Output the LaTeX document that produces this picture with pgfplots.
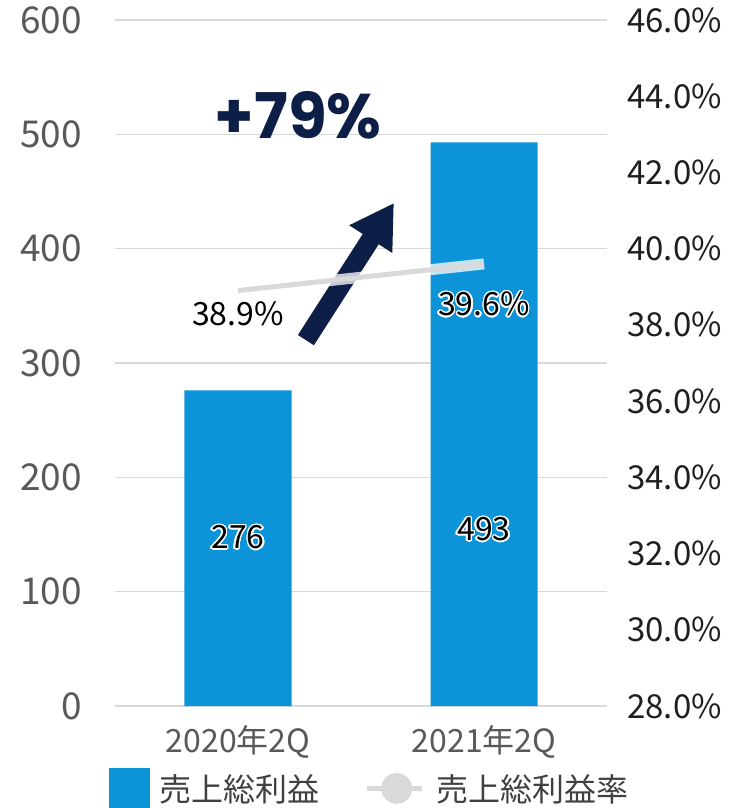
\documentclass[border=0pt]{standalone}
\usepackage{fontspec}
\setmainfont{Noto Sans CJK JP}
\newfontfamily\popfont{Poppins}
\usepackage{pgfplots}
\pgfplotsset{compat=1.18}
\usetikzlibrary{arrows.meta}
\usepackage{contour}
\contourlength{1.5pt}
\definecolor{barblue}{HTML}{0D94D8}
\definecolor{navy}{HTML}{0E1F47}
\definecolor{gridgray}{HTML}{D9D9D9}
\definecolor{tickgray}{HTML}{595959}
\definecolor{linegray}{HTML}{D9D9D9}
\definecolor{legtext}{HTML}{404040}
\begin{document}
\begin{tikzpicture}
\useasboundingbox (-115pt,-102pt) rectangle (613pt,706pt);
\begin{axis}[
  at={(0,0)}, anchor=south west,
  scale only axis, width=492pt, height=686pt,
  xmin=-0.5, xmax=1.5, ymin=0, ymax=600,
  ytick={0,100,200,300,400,500,600},
  yticklabels={0,100,200,300,400,500,600},
  xtick={0,1}, xticklabels={2020年2Q,2021年2Q},
  axis line style={draw=none}, major tick style={draw=none},
  ymajorgrids, grid style={gridgray, line width=1.3pt},
  yticklabel style={font=\fontsize{37}{44}\selectfont, text=tickgray, inner sep=0pt, anchor=east, xshift=-33pt},
  xticklabel style={font=\fontsize{32}{38}\selectfont, text=tickgray, inner sep=0pt, anchor=north, yshift=-19pt},
  clip=false,
]
\addplot[ybar, bar width=107pt, fill=barblue, draw=none] coordinates {(0,276) (1,493)};
\node[font=\fontsize{32}{38}\selectfont] at (axis cs:0,147) {\contour{white}{276}};
\node[font=\fontsize{32}{38}\selectfont] at (axis cs:1,154) {\contour{white}{493}};
\draw[navy, line width=19pt, -{Triangle[width=48pt,length=43pt]}] (axis cs:0.276,320) -- (axis cs:0.634,440);
\node[navy, font=\popfont\bfseries\fontsize{63}{72}\selectfont] at (axis cs:0.245,517) {+79\%};
\end{axis}
\begin{axis}[
  at={(0,0)}, anchor=south west,
  scale only axis, width=492pt, height=686pt,
  xmin=-0.5, xmax=1.5, ymin=28, ymax=46,
  axis y line*=right, hide x axis,
  axis line style={draw=none}, major tick style={draw=none},
  ytick={28,30,32,34,36,38,40,42,44,46},
  yticklabels={28.0\%,30.0\%,32.0\%,34.0\%,36.0\%,38.0\%,40.0\%,42.0\%,44.0\%,46.0\%},
  yticklabel style={font=\fontsize{33}{39}\selectfont, text=black!88, inner sep=0pt, anchor=west, xshift=20pt},
  clip=false,
  legend columns=2,
  legend style={at={(0.5,0)}, anchor=north, xshift=8pt, yshift=-62pt, draw=none, fill=none, inner sep=0pt,
    font=\fontsize{32}{38}\selectfont, text=legtext, nodes={inner sep=1pt},
    /tikz/every even column/.append style={column sep=44pt}},
  legend cell align=left,
]
\addlegendimage{legend image code/.code={\fill[barblue] (0pt,-20pt) rectangle (40pt,20pt); \path (49pt,0pt);}}
\addlegendentry{売上総利益}
\addplot[white, line width=11pt, opacity=0.75, forget plot] coordinates {(0,38.9) (1,39.6)};
\addplot[linegray, line width=5pt, legend image code/.code={\draw[linegray, line width=5pt] (0pt,0pt) -- (55pt,0pt); \fill[linegray] (30pt,0pt) circle (13pt); \path (66pt,0pt);}] coordinates {(0,38.9) (1,39.6)};
\addlegendentry{売上総利益率}
\node[font=\fontsize{32}{38}\selectfont] at (axis cs:0,38.26) {\contour{white}{38.9\%}};
\node[font=\fontsize{32}{38}\selectfont] at (axis cs:1,38.53) {\contour{white}{39.6\%}};
\end{axis}
\end{tikzpicture}
\end{document}
